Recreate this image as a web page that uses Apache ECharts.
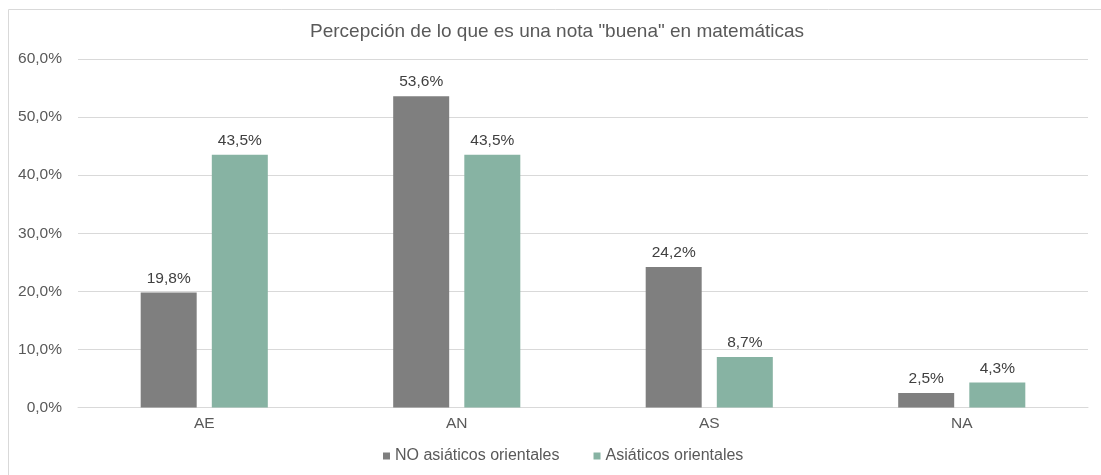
<!DOCTYPE html>
<html>
<head>
<meta charset="utf-8">
<script src="https://cdn.jsdelivr.net/npm/echarts@6/dist/echarts.min.js"></script>
<style>
html,body{margin:0;padding:0;background:#fff;}
#c{width:1101px;height:475px;}
</style>
</head>
<body>
<div id="c"></div>
<script>
const categories = ["AE", "AN", "AS", "NA"];
const seriesNames = ["NO asiáticos orientales", "Asiáticos orientales"];
const noAsiaticos = [19.8, 53.6, 24.2, 2.5];
const asiaticos = [43.5, 43.5, 8.7, 4.3];
const yTicks = [0, 10, 20, 30, 40, 50, 60];

const fmt = v => v.toFixed(1).replace('.', ',') + '%';
const font = '"Liberation Sans", Arial, Helvetica, sans-serif';

const chart = echarts.init(document.getElementById('c'), null, {renderer: 'canvas'});
chart.setOption({
  animation: false,
  textStyle: {fontFamily: font},
  title: {
    text: 'Percepción de lo que es una nota "buena" en matemáticas',
    left: 305, top: 17,
    textStyle: {fontFamily: font, fontSize: 19, fontWeight: 'normal', color: '#595959'}
  },
  graphic: [{
    type: 'rect', shape: {x: 8.5, y: 9.5, width: 1100, height: 480},
    style: {fill: 'none', stroke: '#d9d9d9', lineWidth: 1}, silent: true
  }],
  legend: {
    bottom: 6, left: 378, itemWidth: 7, itemHeight: 7, itemGap: 34,
    icon: 'rect',
    textStyle: {fontFamily: font, fontSize: 16, color: '#595959'},
    data: seriesNames
  },
  grid: {left: 78, right: 13, top: 59, bottom: 67.5, containLabel: false},
  xAxis: {
    type: 'category', data: categories,
    axisLine: {lineStyle: {color: '#d9d9d9'}},
    axisTick: {show: false},
    axisLabel: {color: '#595959', fontSize: 15.5, margin: 8, fontFamily: font}
  },
  yAxis: {
    type: 'value', min: yTicks[0], max: yTicks[yTicks.length - 1], interval: 10,
    axisLine: {show: false}, axisTick: {show: false},
    splitLine: {lineStyle: {color: '#d9d9d9'}},
    axisLabel: {color: '#595959', fontSize: 15.5, margin: 16, fontFamily: font, formatter: v => fmt(v)}
  },
  series: [
    {
      name: seriesNames[0], type: 'bar', data: noAsiaticos,
      barWidth: 56, barGap: '27%',
      itemStyle: {color: '#7f7f7f'},
      label: {show: true, position: 'top', distance: 6, color: '#404040', fontSize: 15.5, fontFamily: font, formatter: p => fmt(p.value)}
    },
    {
      name: seriesNames[1], type: 'bar', data: asiaticos,
      barWidth: 56, barGap: '27%',
      itemStyle: {color: '#87b3a3'},
      label: {show: true, position: 'top', distance: 6, color: '#404040', fontSize: 15.5, fontFamily: font, formatter: p => fmt(p.value)}
    }
  ]
});
</script>
</body>
</html>
